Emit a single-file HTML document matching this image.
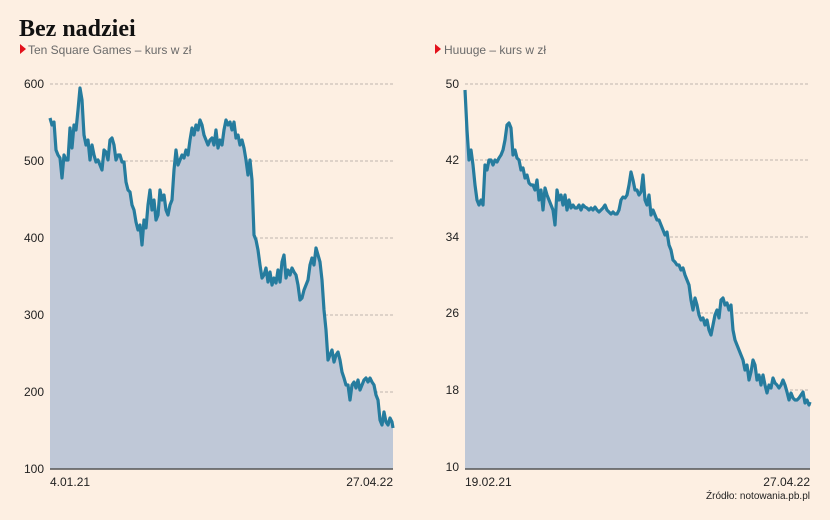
<!DOCTYPE html>
<html><head><meta charset="utf-8"><style>
html,body{margin:0;padding:0;background:#fdefe2;}
svg{display:block;font-family:"Liberation Sans",sans-serif;}
</style></head><body>
<svg width="830" height="520" viewBox="0 0 830 520">
<rect width="830" height="520" fill="#fdefe2"/>
<text x="19" y="36" font-family="Liberation Serif,serif" font-weight="bold" font-size="24" fill="#111">Bez nadziei</text>
<polygon points="20,44 26,49 20,54" fill="#e3111b"/>
<text x="28" y="54" font-size="12" fill="#6a6a6a">Ten Square Games – kurs w zł</text>
<polygon points="435,44 441,49 435,54" fill="#e3111b"/>
<text x="444" y="54" font-size="12" fill="#6a6a6a">Huuuge – kurs w zł</text>
<g stroke="#a9a39c" stroke-dasharray="3,2" stroke-width="0.8">
<line x1="50" x2="393" y1="84" y2="84"/><line x1="50" x2="393" y1="161" y2="161"/><line x1="50" x2="393" y1="238" y2="238"/><line x1="50" x2="393" y1="315" y2="315"/><line x1="50" x2="393" y1="392" y2="392"/>
<line x1="465" x2="810" y1="84" y2="84"/><line x1="465" x2="810" y1="160" y2="160"/><line x1="465" x2="810" y1="237" y2="237"/><line x1="465" x2="810" y1="313" y2="313"/><line x1="465" x2="810" y1="390" y2="390"/>
</g>
<g font-size="12" fill="#222" text-anchor="end">
<text x="44" y="88">600</text><text x="44" y="165">500</text><text x="44" y="242">400</text><text x="44" y="319">300</text><text x="44" y="396">200</text><text x="44" y="473">100</text>
<text x="459" y="88">50</text><text x="459" y="164">42</text><text x="459" y="241">34</text><text x="459" y="317">26</text><text x="459" y="394">18</text><text x="459" y="471">10</text>
</g>
<g font-size="12" fill="#222">
<text x="50" y="486">4.01.21</text><text x="393" y="486" text-anchor="end">27.04.22</text>
<text x="465" y="486">19.02.21</text><text x="810" y="486" text-anchor="end">27.04.22</text>
<text x="810" y="499" text-anchor="end" font-size="10">Źródło: notowania.pb.pl</text>
</g>
<g id="c1">
<polyline id="l1" fill="#bfc8d7" stroke="none" points="50,469 50,118 52,125 54,122 56,150 58,155 60,158 62,178 64,155 66,160 68,160 70,128 72,148 74,125 76,130 78,110 80,88 82,100 84,135 86,145 88,140 90,160 92,145 94,155 96,162 98,160 100,165 102,170 104,150 106,152 108,160 110,140 112,138 114,145 116,160 118,155 120,155 122,162 124,162 126,182 128,190 130,192 132,205 134,210 136,222 138,230 140,225 142,245 144,220 146,228 148,205 150,190 152,210 154,200 156,220 158,215 160,190 162,200 164,195 166,210 168,215 170,205 172,200 174,170 176,150 178,165 180,160 182,155 184,158 186,150 188,155 190,140 192,128 194,135 196,125 198,130 200,120 202,125 204,135 206,140 208,145 210,140 212,138 214,145 216,130 218,148 220,140 222,145 224,130 226,120 228,125 230,122 232,130 234,122 236,138 238,135 240,145 242,140 244,148 246,160 248,175 250,160 252,180 254,235 256,240 258,250 260,265 262,278 264,275 266,268 268,282 270,272 272,285 274,278 276,283 278,270 280,282 282,262 284,255 286,278 288,270 290,275 292,268 294,272 296,275 298,285 300,300 302,298 304,290 306,285 308,280 310,265 312,258 314,265 316,248 318,255 320,262 322,280 324,310 326,330 328,360 330,355 332,350 334,362 336,355 338,352 340,360 342,372 344,378 346,385 348,385 350,400 352,385 354,382 356,388 358,380 360,390 362,385 364,380 366,378 368,382 370,378 372,382 374,385 376,395 378,400 380,420 382,425 384,412 386,422 388,425 390,418 392,422 393,428 393,469"/>
<polyline fill="none" stroke="#267c9e" stroke-width="3.2" stroke-linejoin="round" points="50,118 52,125 54,122 56,150 58,155 60,158 62,178 64,155 66,160 68,160 70,128 72,148 74,125 76,130 78,110 80,88 82,100 84,135 86,145 88,140 90,160 92,145 94,155 96,162 98,160 100,165 102,170 104,150 106,152 108,160 110,140 112,138 114,145 116,160 118,155 120,155 122,162 124,162 126,182 128,190 130,192 132,205 134,210 136,222 138,230 140,225 142,245 144,220 146,228 148,205 150,190 152,210 154,200 156,220 158,215 160,190 162,200 164,195 166,210 168,215 170,205 172,200 174,170 176,150 178,165 180,160 182,155 184,158 186,150 188,155 190,140 192,128 194,135 196,125 198,130 200,120 202,125 204,135 206,140 208,145 210,140 212,138 214,145 216,130 218,148 220,140 222,145 224,130 226,120 228,125 230,122 232,130 234,122 236,138 238,135 240,145 242,140 244,148 246,160 248,175 250,160 252,180 254,235 256,240 258,250 260,265 262,278 264,275 266,268 268,282 270,272 272,285 274,278 276,283 278,270 280,282 282,262 284,255 286,278 288,270 290,275 292,268 294,272 296,275 298,285 300,300 302,298 304,290 306,285 308,280 310,265 312,258 314,265 316,248 318,255 320,262 322,280 324,310 326,330 328,360 330,355 332,350 334,362 336,355 338,352 340,360 342,372 344,378 346,385 348,385 350,400 352,385 354,382 356,388 358,380 360,390 362,385 364,380 366,378 368,382 370,378 372,382 374,385 376,395 378,400 380,420 382,425 384,412 386,422 388,425 390,418 392,422 393,428"/>
</g>
<polyline fill="#bfc8d7" stroke="none" points="465,469 465,90 467,130 469,160 471,150 473,165 475,185 477,200 479,205 481,200 483,205 485,165 487,170 489,160 491,160 493,165 495,160 497,162 499,158 501,155 503,150 505,140 507,125 509,123 511,128 513,155 515,150 517,158 519,160 521,170 523,168 525,178 527,175 529,183 531,185 533,185 535,190 537,180 539,200 541,190 543,210 545,188 547,195 549,200 551,205 553,210 555,225 557,190 559,200 561,195 563,205 565,195 567,210 569,200 571,208 573,205 575,208 577,208 579,205 581,210 583,205 585,207 587,208 589,210 591,208 593,210 595,207 597,210 599,212 601,210 603,208 605,205 607,210 609,212 611,214 613,212 615,214 617,214 619,210 621,200 623,197 625,198 627,195 629,185 631,172 633,180 635,190 637,190 639,195 641,192 643,175 645,200 647,205 649,195 651,215 653,210 655,215 657,220 659,220 661,225 663,230 665,235 667,232 669,245 671,250 673,260 675,262 677,265 679,265 681,270 683,268 685,275 687,280 689,285 691,300 693,310 695,298 697,305 699,315 701,320 703,318 705,325 707,320 709,330 711,335 713,325 715,315 717,310 719,318 721,300 723,298 725,305 727,303 729,310 731,305 733,330 735,340 737,345 739,350 741,355 743,360 745,370 747,365 749,380 751,372 753,360 755,365 757,380 759,375 761,385 763,375 765,385 767,393 769,385 771,388 773,378 775,383 777,385 779,388 781,385 783,380 785,385 787,392 789,400 791,393 793,398 795,400 797,400 799,398 801,395 803,392 805,403 807,400 809,405 810,402 810,469"/>
<polyline fill="none" stroke="#267c9e" stroke-width="3.2" stroke-linejoin="round" points="465,90 467,130 469,160 471,150 473,165 475,185 477,200 479,205 481,200 483,205 485,165 487,170 489,160 491,160 493,165 495,160 497,162 499,158 501,155 503,150 505,140 507,125 509,123 511,128 513,155 515,150 517,158 519,160 521,170 523,168 525,178 527,175 529,183 531,185 533,185 535,190 537,180 539,200 541,190 543,210 545,188 547,195 549,200 551,205 553,210 555,225 557,190 559,200 561,195 563,205 565,195 567,210 569,200 571,208 573,205 575,208 577,208 579,205 581,210 583,205 585,207 587,208 589,210 591,208 593,210 595,207 597,210 599,212 601,210 603,208 605,205 607,210 609,212 611,214 613,212 615,214 617,214 619,210 621,200 623,197 625,198 627,195 629,185 631,172 633,180 635,190 637,190 639,195 641,192 643,175 645,200 647,205 649,195 651,215 653,210 655,215 657,220 659,220 661,225 663,230 665,235 667,232 669,245 671,250 673,260 675,262 677,265 679,265 681,270 683,268 685,275 687,280 689,285 691,300 693,310 695,298 697,305 699,315 701,320 703,318 705,325 707,320 709,330 711,335 713,325 715,315 717,310 719,318 721,300 723,298 725,305 727,303 729,310 731,305 733,330 735,340 737,345 739,350 741,355 743,360 745,370 747,365 749,380 751,372 753,360 755,365 757,380 759,375 761,385 763,375 765,385 767,393 769,385 771,388 773,378 775,383 777,385 779,388 781,385 783,380 785,385 787,392 789,400 791,393 793,398 795,400 797,400 799,398 801,395 803,392 805,403 807,400 809,405 810,402"/>
<line x1="50" x2="393" y1="469" y2="469" stroke="#555" stroke-width="1.5"/>
<line x1="465" x2="810" y1="469" y2="469" stroke="#555" stroke-width="1.5"/>
</svg>
</body></html>
